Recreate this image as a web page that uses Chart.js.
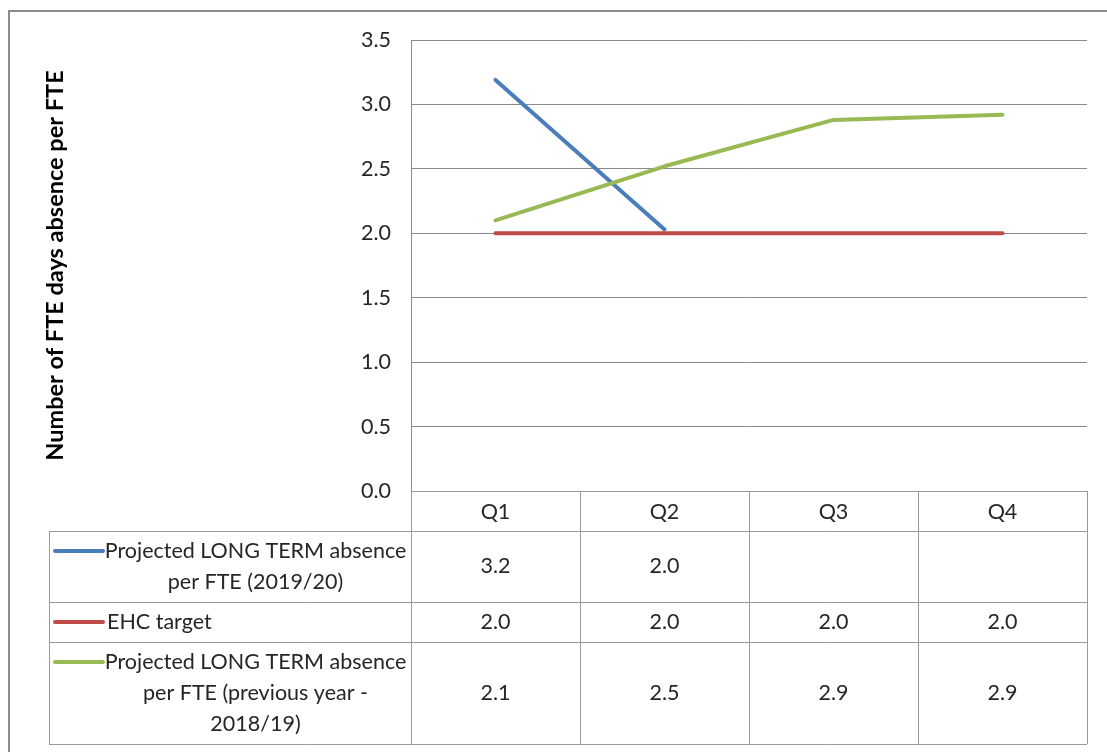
<!DOCTYPE html>
<html>
<head>
<meta charset="utf-8">
<script src="https://cdn.jsdelivr.net/npm/chart.js@4.4.1/dist/chart.umd.min.js"></script>
<style>
  html, body { margin: 0; padding: 0; background: #ffffff; }
  #wrap { position: relative; width: 1107px; height: 752px; }
</style>
</head>
<body>
<div id="wrap"><canvas id="absenceChart"></canvas></div>
<script>
// Quarterly long-term absence, days per FTE
const quarters = ['Q1', 'Q2', 'Q3', 'Q4'];
const longTerm2019 = [3.19, 2.03, null, null];
const ehcTarget = [2.0, 2.0, 2.0, 2.0];
const longTerm2018 = [2.10, 2.52, 2.88, 2.92];

// Series names as they wrap in the data table
const seriesLines = [
  ['Projected LONG TERM absence', 'per FTE (2019/20)'],
  ['EHC target'],
  ['Projected LONG TERM absence', 'per FTE (previous year -', '2018/19)']
];
const seriesColors = ['#4A7EBB', '#BE4B48', '#98B954'];

const yTicks = [0, 0.5, 1.0, 1.5, 2.0, 2.5, 3.0, 3.5];
const yTitle = 'Number of FTE days absence per FTE';

const FONT = 'Lato, "Open Sans", sans-serif';
const TEXT_SIZE = 21.5;
const TITLE_SIZE = 23.5;
const GRID = '#8a8a8a';
const TABLE_LINE = '#9a9a9a';
const TEXT = '#262626';

// layout of the data table under the plot
const TABLE_LEFT = 49;
const KEY_X0 = 55, KEY_X1 = 103, LABEL_X = 107;
const HEADER_H = 40, LINE_H = 31;

// Draws the outer frame, the value-axis title and the data table
const tablePlugin = {
  id: 'dataTable',
  afterDraw(chart) {
    const ctx = chart.ctx;
    const xs = chart.scales.x;
    const area = chart.chartArea;
    const n = quarters.length;
    const band = (area.right - area.left) / n;
    const top = area.bottom;

    ctx.save();
    // frame
    ctx.strokeStyle = '#8c8c8c';
    ctx.lineWidth = 2;
    ctx.beginPath();
    ctx.moveTo(9, chart.height);
    ctx.lineTo(9, 11);
    ctx.lineTo(chart.width, 11);
    ctx.stroke();

    // axis title
    ctx.save();
    ctx.translate(55, (area.top + area.bottom) / 2);
    ctx.rotate(-Math.PI / 2);
    ctx.font = 'bold ' + TITLE_SIZE + 'px ' + FONT;
    ctx.fillStyle = '#000000';
    ctx.textAlign = 'center';
    ctx.textBaseline = 'middle';
    ctx.fillText(yTitle, 0, 0);
    ctx.restore();

    // row geometry
    const rows = [];
    let y = top + HEADER_H;
    chart.data.datasets.forEach((ds, i) => {
      const h = HEADER_H + (seriesLines[i].length - 1) * LINE_H;
      rows.push({ y0: y, y1: y + h });
      y += h;
    });
    const bottom = y;

    ctx.strokeStyle = TABLE_LINE;
    ctx.lineWidth = 1;
    ctx.beginPath();
    // horizontal lines
    ctx.moveTo(area.left, top + 0.5);
    ctx.lineTo(area.right, top + 0.5);
    rows.forEach(r => {
      ctx.moveTo(TABLE_LEFT, Math.round(r.y0) + 0.5);
      ctx.lineTo(area.right, Math.round(r.y0) + 0.5);
    });
    ctx.moveTo(TABLE_LEFT, Math.round(bottom) + 0.5);
    ctx.lineTo(area.right, Math.round(bottom) + 0.5);
    // vertical lines
    ctx.moveTo(TABLE_LEFT + 0.5, rows[0].y0);
    ctx.lineTo(TABLE_LEFT + 0.5, bottom);
    for (let i = 0; i <= n; i++) {
      const x = Math.round(area.left + band * i) + 0.5;
      ctx.moveTo(x, top);
      ctx.lineTo(x, bottom);
    }
    ctx.stroke();

    // cells
    ctx.font = TEXT_SIZE + 'px ' + FONT;
    ctx.fillStyle = TEXT;
    ctx.textBaseline = 'middle';
    const labelCenter = (LABEL_X + area.left - 7) / 2;
    chart.data.datasets.forEach((ds, i) => {
      const r = rows[i];
      const lines = seriesLines[i];
      const mid = (r.y0 + r.y1) / 2;
      const firstY = mid - (lines.length - 1) * LINE_H / 2;

      // legend key
      ctx.save();
      ctx.strokeStyle = ds.borderColor;
      ctx.lineWidth = 4;
      ctx.lineCap = 'round';
      ctx.beginPath();
      ctx.moveTo(KEY_X0, firstY);
      ctx.lineTo(KEY_X1, firstY);
      ctx.stroke();
      ctx.restore();

      // series name
      lines.forEach((t, k) => {
        if (lines.length === 1) {
          ctx.textAlign = 'left';
          ctx.fillText(t, LABEL_X, firstY);
        } else {
          ctx.textAlign = 'center';
          ctx.fillText(t, labelCenter, firstY + k * LINE_H);
        }
      });

      // values
      ctx.textAlign = 'center';
      ds.data.forEach((v, j) => {
        if (v === null || v === undefined) return;
        ctx.fillText(v.toFixed(1), xs.getPixelForValue(j), mid);
      });
    });
    ctx.restore();
  }
};

const datasets = [
  { label: seriesLines[0].join(' '), data: longTerm2019, borderColor: seriesColors[0], order: 3 },
  { label: seriesLines[1].join(' '), data: ehcTarget, borderColor: seriesColors[1], order: 2 },
  { label: seriesLines[2].join(' '), data: longTerm2018, borderColor: seriesColors[2], order: 1 }
].map(d => Object.assign(d, {
  borderWidth: 4,
  pointRadius: 0,
  pointHoverRadius: 0,
  tension: 0,
  fill: false,
  spanGaps: false,
  borderCapStyle: 'round',
  borderJoinStyle: 'round',
  backgroundColor: d.borderColor
}));

new Chart(document.getElementById('absenceChart'), {
  type: 'line',
  data: { labels: quarters, datasets },
  plugins: [tablePlugin],
  options: {
    responsive: true,
    maintainAspectRatio: false,
    animation: false,
    events: [],
    layout: { padding: { left: 0, top: 40, right: 20, bottom: 0 } },
    plugins: { legend: { display: false }, tooltip: { enabled: false }, title: { display: false } },
    scales: {
      x: {
        type: 'category',
        offset: true,
        grid: { display: false, drawTicks: false },
        border: { display: true, color: GRID, width: 1 },
        ticks: { color: TEXT, font: { family: FONT, size: TEXT_SIZE }, padding: 8, maxRotation: 0 },
        afterFit(scale) { scale.height = 752 - 491; }
      },
      y: {
        min: 0,
        max: 3.5,
        afterBuildTicks(scale) { scale.ticks = yTicks.map(v => ({ value: v })); },
        grid: { color: GRID, lineWidth: 1, drawTicks: false },
        border: { display: true, color: GRID, width: 1 },
        ticks: {
          color: TEXT,
          font: { family: FONT, size: TEXT_SIZE },
          padding: 20,
          callback: v => Number(v).toFixed(1)
        },
        afterFit(scale) { scale.width = 411; }
      }
    }
  }
});
</script>
</body>
</html>
